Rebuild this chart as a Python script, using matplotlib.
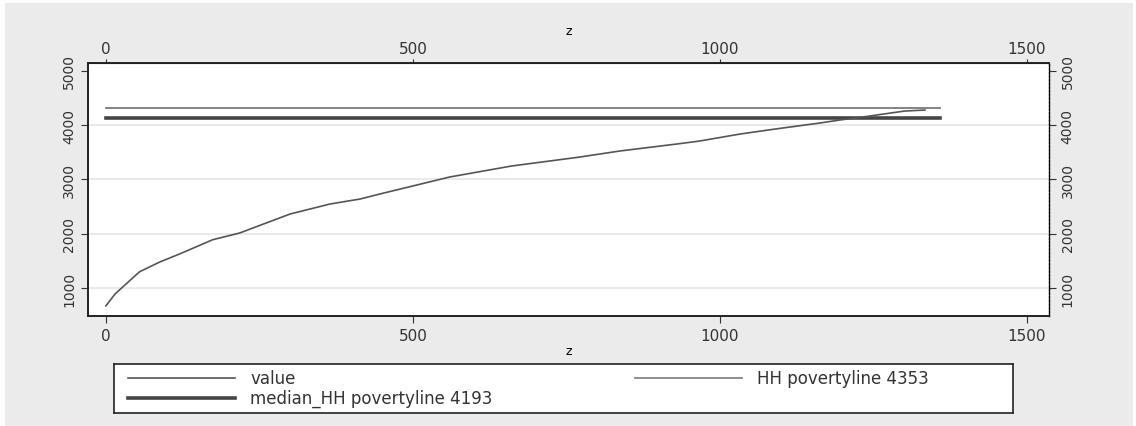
import matplotlib
matplotlib.use("Agg")
import matplotlib.pyplot as plt
from matplotlib.patches import Rectangle

# --- data ---
z_obs = [0, 15, 31, 55, 88, 120, 174, 218, 300, 365, 414, 446, 560, 661, 772,
         837, 930, 967, 1033, 1090, 1163, 1195, 1244, 1301, 1334]
value = [670, 890, 1055, 1300, 1480, 1627, 1890, 2014, 2364, 2548, 2640, 2732,
         3046, 3249, 3414, 3525, 3654, 3709, 3838, 3930, 4041, 4096, 4170, 4262, 4280]
z_span = [0, 1358]
hh_povertyline = 4312
median_povertyline = 4133
x_ticks = [0, 500, 1000, 1500]
y_ticks = [1000, 2000, 3000, 4000, 5000]
grid_y = [1000, 2000, 3000, 4000]
legend_labels = ['value', 'median_HH povertyline 4193', 'HH povertyline 4353']

BG = '#ebebeb'
C_VALUE, C_MED, C_HH = '#555555', '#454545', '#7a7a7a'

fig = plt.figure(figsize=(11.36, 4.27), dpi=100)
fig.patch.set_facecolor('white')
fig.patches.append(Rectangle((0.004, 0.0), 0.993, 0.99, transform=fig.transFigure,
                             facecolor=BG, edgecolor='none', zorder=-10))

ax = fig.add_axes([0.0775, 0.2576, 0.8459, 0.5925])
ax.set_facecolor('white')
for y in grid_y:
    ax.axhline(y, color='#e6e6e6', lw=1.2, zorder=0)

ax.plot(z_obs, value, color=C_VALUE, lw=1.2, zorder=3)
ax.plot(z_span, [median_povertyline] * 2, color=C_MED, lw=2.6, zorder=2)
ax.plot(z_span, [hh_povertyline] * 2, color=C_HH, lw=1.3, zorder=2)

ax.set_xlim(-29, 1536)
ax.set_ylim(484, 5147)
ax.set_xticks(x_ticks)
ax.set_yticks(y_ticks)
ax.tick_params(axis='x', labelsize=11, colors='#333333', length=5)
ax.tick_params(axis='y', labelsize=10, colors='#333333', length=5)
for lab in ax.get_yticklabels():
    lab.set_rotation(90)
    lab.set_va('center')
ax.set_xlabel('z', fontsize=9, labelpad=1)
for s in ['left', 'bottom', 'top']:
    ax.spines[s].set_linewidth(1.4)
    ax.spines[s].set_color('#222222')
ax.spines['right'].set_linewidth(1.0)
ax.spines['right'].set_linestyle(':')

top = ax.secondary_xaxis('top')
top.set_xticks(x_ticks)
top.tick_params(labelsize=11, colors='#333333', length=3, pad=2)
top.set_xlabel('z', fontsize=9, labelpad=5)
right = ax.secondary_yaxis('right')
right.set_yticks(y_ticks)
right.tick_params(labelsize=10, colors='#333333', length=5)
for lab in right.get_yticklabels():
    lab.set_rotation(90)
    lab.set_va('center')

# legend box drawn by hand to match the two-column layout
lg = fig.add_axes([0.1004, 0.0304, 0.7914, 0.1148])
lg.set_xlim(0, 899)
lg.set_ylim(49, 0)
lg.set_xticks([])
lg.set_yticks([])
lg.set_facecolor('white')
for s in lg.spines.values():
    s.set_linewidth(1.2)
    s.set_color('#222222')
entries = [(14, 14, C_VALUE, 1.2, legend_labels[0]),
           (14, 34, C_MED, 2.6, legend_labels[1]),
           (521, 14, C_HH, 1.2, legend_labels[2])]
for x0, y0, col, lw, txt in entries:
    lg.plot([x0, x0 + 107], [y0, y0], color=col, lw=lw)
    lg.text(x0 + 122, y0, txt, fontsize=12, va='center', ha='left', color='#333333')

fig.savefig('out.png', dpi=100, facecolor=fig.get_facecolor())
